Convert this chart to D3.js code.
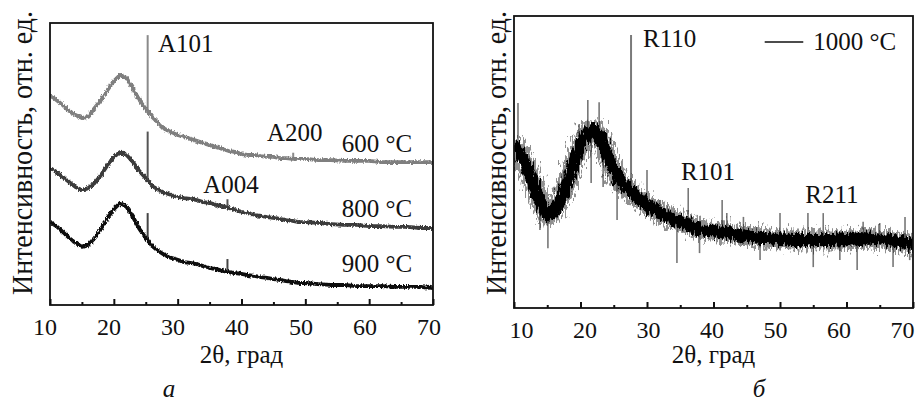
<!DOCTYPE html>
<html>
<head>
<meta charset="utf-8">
<script src="https://cdn.jsdelivr.net/npm/d3@7"></script>
<style>
body{margin:0;background:#fff;}
</style>
</head>
<body>
<script>
// panel a: three annealing temperatures, 2θ grid and relative intensity
var angleA = [10,11,12,13,14,15,16,17,18,19,20,21,22,23,24,25,26,27,28,29,30,31,32,33,34,35,36,37,38,39,40,41,42,43,44,45,46,47,48,49,50,52,54,56,58,60,62,64,66,68,70];
var int600 = [74.5,72.7,70.9,68.8,67.4,66.3,66.7,69.9,72.7,76.2,79.4,81.6,80.5,76.6,72.7,69.5,66.7,64.5,62.4,61.3,60.3,59.6,58.9,58.2,57.4,56.7,56.0,55.3,54.6,54.3,53.5,53.2,53.2,52.8,52.5,52.5,52.1,52.1,51.8,51.8,51.8,51.4,51.4,51.1,51.1,51.1,50.7,50.7,50.7,50.7,50.7];
var int800 = [48.6,47.2,45.4,43.6,41.8,40.8,41.5,43.3,46.1,49.6,52.5,54.3,53.2,50.7,47.5,45.0,42.2,40.8,39.7,39.0,38.3,37.9,37.6,37.2,36.5,36.2,35.5,35.1,34.4,33.7,33.0,32.6,31.9,31.6,31.2,30.9,30.5,30.1,29.8,29.4,29.4,29.1,28.7,28.4,28.4,28.0,28.0,27.7,27.7,27.3,27.3];
var int900 = [29.4,28.0,25.9,23.8,22.0,20.6,21.3,23.8,27.0,30.9,34.0,36.2,34.8,31.2,27.0,23.8,20.9,19.1,17.7,16.7,16.0,15.2,14.9,14.5,13.8,13.1,12.8,12.1,11.7,11.3,11.0,10.6,10.3,9.9,9.6,9.2,8.9,8.5,8.2,7.8,7.8,7.4,7.1,7.1,6.7,6.7,6.7,6.4,6.4,6.4,6.0];
// narrow reflections [2θ, top intensity]
var spike600 = [[25.3,95.7],[48.1,54.0]];
var spike800 = [[25.3,61.5],[37.8,37.5]];
var spike900 = [[25.3,32.6],[37.8,16.3]];
var tempLabels = ["600 °C","800 °C","900 °C"];

// panel б: 1000 °C
var angleB = [10,11,12,13,14,15,16,17,18,19,20,21,22,23,24,25,26,27,28,29,30,31,32,33,34,35,36,37,38,39,40,41,42,43,44,45,46,47,48,50,52,54,56,58,60,62,64,66,68,70];
var int1000 = [56.5,52.4,47.9,42.1,36.0,31.8,32.9,37.0,42.8,49.7,55.8,59.9,61.0,58.2,52.4,47.3,43.2,41.1,39.0,37.0,35.3,33.9,32.5,31.5,30.5,29.5,28.8,27.7,27.1,26.7,26.4,26.0,25.7,25.3,25.0,24.7,24.3,24.0,24.0,23.6,23.3,23.3,23.3,23.3,23.6,24.0,23.6,23.3,22.6,21.9];
var spike1000 = [[10.6,70.2],[13.9,26.7],[15.1,20.5],[17.5,47.0],[19.8,63.0],[21.1,71.2],[21.6,42.8],[22.8,70.5],[23.4,41.4],[25.5,30.1],[30.0,47.3],[32.0,37.0],[34.5,15.4],[36.2,41.1],[37.9,18.8],[41.3,37.0],[42.0,32.5],[44.5,31.2],[47.0,16.4],[50.0,32.5],[54.2,32.5],[55.0,14.0],[56.5,32.5],[59.0,16.4],[61.6,13.0],[62.5,29.5],[65.0,29.1],[67.0,14.0],[68.8,31.2],[69.5,16.4]];
var peak1000 = [27.6,93.5];

var tickMajor = [10,20,30,40,50,60,70];
var tickMinor = [15,25,35,45,55,65];

var W = 919, H = 403;
var FONT = "'Liberation Serif', 'Times New Roman', Times, 'Nimbus Roman', 'Nimbus Roman No9 L', FreeSerif, 'DejaVu Serif', 'Noto Serif', serif";
var svg = d3.select("body").append("svg").attr("width",W).attr("height",H)
	.style("font-family",FONT);

var defs = svg.append("defs");
function rough(id, freq, scale, seed){
	var f = defs.append("filter").attr("id",id)
		.attr("filterUnits","userSpaceOnUse")
		.attr("x",0).attr("y",0).attr("width",W).attr("height",H);
	f.append("feTurbulence").attr("type","fractalNoise").attr("baseFrequency",freq)
		.attr("numOctaves",2).attr("seed",seed).attr("result","n");
	f.append("feDisplacementMap").attr("in","SourceGraphic").attr("in2","n")
		.attr("scale",scale).attr("xChannelSelector","R").attr("yChannelSelector","G");
}
rough("roughA","0.7 0.3",4,3);
rough("roughB","0.5 0.1",12,7);
rough("roughB2","0.6 0.15",22,11);

function interp(xs, ys, a){
	var i = d3.bisectLeft(xs, a);
	if(i <= 0) return ys[0];
	if(i >= xs.length) return ys[ys.length-1];
	var t = (a - xs[i-1])/(xs[i]-xs[i-1]);
	return ys[i-1] + t*(ys[i]-ys[i-1]);
}

function txt(sel){ return sel.style("font-family",FONT).attr("fill","#111"); }

function panel(box, labelRange){
	var x = d3.scaleLinear().domain([10,70]).range([box.l, box.r]);
	var y = d3.scaleLinear().domain([0,100]).range([box.b, box.t]);
	var lx = d3.scaleLinear().domain([10,70]).range(labelRange);
	var g = svg.append("g");
	var clipId = "clip"+box.l;
	defs.append("clipPath").attr("id",clipId).append("rect")
		.attr("x",box.l).attr("y",box.t).attr("width",box.r-box.l).attr("height",box.b-box.t);
	var plot = g.append("g").attr("clip-path","url(#"+clipId+")");

	var minor = d3.axisBottom(x).tickValues(tickMinor).tickSizeInner(-3).tickSizeOuter(0).tickFormat("");
	g.append("g").attr("transform","translate(0,"+box.b+")").call(minor)
		.call(function(s){ s.select(".domain").remove(); s.selectAll("line").attr("stroke","#111").attr("stroke-width",2); });
	var major = d3.axisBottom(x).tickValues(tickMajor).tickSizeInner(-6).tickSizeOuter(0).tickPadding(13);
	g.append("g").attr("transform","translate(0,"+box.b+")").call(major)
		.call(function(s){
			s.attr("font-family",null).attr("font-size",null);
			s.select(".domain").remove();
			s.selectAll("line").attr("stroke","#111").attr("stroke-width",2);
			txt(s.selectAll("text")).attr("font-size",24)
				.attr("x",function(d){return lx(d)-x(d);});
		});

	g.append("rect").attr("x",box.l).attr("y",box.t)
		.attr("width",box.r-box.l).attr("height",box.b-box.t)
		.attr("fill","none").attr("stroke","#111").attr("stroke-width",1.8);

	txt(g.append("text")).attr("x",(box.l+box.r)/2).attr("y",363)
		.attr("text-anchor","middle").attr("font-size",25).text("2θ, град");

	txt(g.append("text")).attr("transform","translate("+box.yl+",153) rotate(-90)")
		.attr("text-anchor","middle").attr("font-size",29)
		.attr("textLength",284).attr("lengthAdjust","spacingAndGlyphs")
		.text("Интенсивность, отн. ед.");

	return {x:x, y:y, g:g, plot:plot};
}

// ---- panel a
var pA = panel({l:50, r:433, t:23, b:305, yl:32}, [44.5,428.5]);
var lineA = d3.line().x(function(d){return pA.x(d[0]);}).y(function(d){return pA.y(d[1]);});
var seriesA = [
	{vals:int600, spikes:spike600, color:"#7f7f7f", spikeColor:"#8a8a8a"},
	{vals:int800, spikes:spike800, color:"#3a3a3a", spikeColor:"#555"},
	{vals:int900, spikes:spike900, color:"#0c0c0c", spikeColor:"#444"}
];
seriesA.forEach(function(s){
	pA.plot.selectAll(null).data(s.spikes).enter().append("line")
		.attr("x1",function(d){return pA.x(d[0]);}).attr("x2",function(d){return pA.x(d[0]);})
		.attr("y1",function(d){return pA.y(interp(angleA,s.vals,d[0]));})
		.attr("y2",function(d){return pA.y(d[1]);})
		.attr("stroke",s.spikeColor).attr("stroke-width",2);
	pA.plot.append("path").datum(angleA.map(function(a,i){return [a,s.vals[i]];}))
		.attr("d",lineA).attr("fill","none").attr("stroke",s.color)
		.attr("stroke-width",3.8).attr("stroke-linejoin","round")
		.attr("filter","url(#roughA)");
});
var annA = [["A101",26.9,89.7],["A200",44.0,58.2],["A004",34.0,39.7],
	[tempLabels[0],55.7,54.3],[tempLabels[1],55.7,31.2],[tempLabels[2],55.7,11.7]];
txt(pA.g.selectAll(null).data(annA).enter().append("text"))
	.attr("x",function(d){return pA.x(d[1]);}).attr("y",function(d){return pA.y(d[2]);})
	.attr("font-size",25).text(function(d){return d[0];});
txt(svg.append("text")).attr("x",169).attr("y",397).attr("text-anchor","middle")
	.attr("font-size",25).attr("font-style","italic").text("а");

// ---- panel б
var pB = panel({l:514, r:913, t:16, b:308, yl:506}, [521,902]);
var lineB = d3.line().x(function(d){return pB.x(d[0]);}).y(function(d){return pB.y(d[1]);});
var ptsB = angleB.map(function(a,i){return [a,int1000[i]];});
pB.plot.selectAll(null).data(spike1000).enter().append("line")
	.attr("x1",function(d){return pB.x(d[0]);}).attr("x2",function(d){return pB.x(d[0]);})
	.attr("y1",function(d){return pB.y(interp(angleB,int1000,d[0]));})
	.attr("y2",function(d){return pB.y(d[1]);})
	.attr("stroke","#777").attr("stroke-width",1.6);
pB.plot.append("line")
	.attr("x1",pB.x(peak1000[0])).attr("x2",pB.x(peak1000[0]))
	.attr("y1",pB.y(interp(angleB,int1000,peak1000[0]))).attr("y2",pB.y(peak1000[1]))
	.attr("stroke","#7a7a7a").attr("stroke-width",2);
pB.plot.append("path").datum(ptsB).attr("d",lineB).attr("fill","none")
	.attr("stroke","#222").attr("stroke-opacity",0.5).attr("stroke-width",19)
	.attr("stroke-linejoin","round").attr("filter","url(#roughB2)");
pB.plot.append("path").datum(ptsB).attr("d",lineB).attr("fill","none")
	.attr("stroke","#050505").attr("stroke-width",12)
	.attr("stroke-linejoin","round").attr("filter","url(#roughB)");

var annB = [["R110",29.4,89.4],["R101",35.1,43.8],["R211",53.8,36.0]];
txt(pB.g.selectAll(null).data(annB).enter().append("text"))
	.attr("x",function(d){return pB.x(d[1]);}).attr("y",function(d){return pB.y(d[2]);})
	.attr("font-size",25).text(function(d){return d[0];});
// legend
pB.g.append("line").attr("x1",pB.x(47.7)).attr("x2",pB.x(53.5))
	.attr("y1",pB.y(91.1)).attr("y2",pB.y(91.1)).attr("stroke","#111").attr("stroke-width",1.6);
txt(pB.g.append("text")).attr("x",pB.x(55.0)).attr("y",pB.y(88.4)).attr("font-size",25).text("1000 °C");
txt(svg.append("text")).attr("x",759).attr("y",397).attr("text-anchor","middle")
	.attr("font-size",25).attr("font-style","italic").text("б");
</script>
</body>
</html>
